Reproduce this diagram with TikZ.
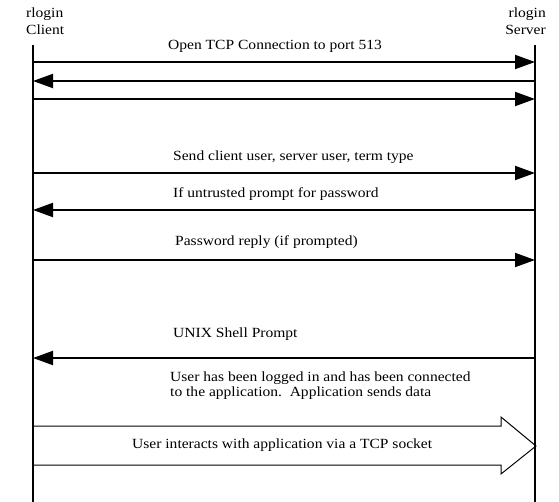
\documentclass[tikz,border=0pt]{standalone}
\usepackage{fontspec}
\setmainfont[FakeStretch=1.11]{Liberation Serif}
\usetikzlibrary{arrows.meta}
\begin{document}
\begin{tikzpicture}[x=1pt,y=-1pt,
  life/.style={line width=2pt},
  msg/.style={line width=2pt,-{Triangle[length=20pt,width=14pt]}},
  lbl/.style={anchor=west,inner sep=0pt,font=\fontsize{14}{15}\selectfont},
  hdr/.style={anchor=west,inner sep=0pt,font=\fontsize{14}{17}\selectfont,align=left},
  bigarrow/.style={line width=1pt}]
\useasboundingbox (0,0) rectangle (559,502);
% lifelines
\coordinate (c0) at (33,45); \coordinate (c1) at (33,502);
\coordinate (s0) at (535,45); \coordinate (s1) at (535,502);
\draw[life] (c0) -- (c1);
\draw[life] (s0) -- (s1);
% headers
\node[hdr] (hc) at (26,21) {rlogin\\Client};
\node[hdr,anchor=east,align=right] (hs) at (546,21) {rlogin\\Server};
% messages
\foreach \n/\y in {1/62,2/81,3/99,4/173,5/210,6/260,7/358}{
  \coordinate (a\n) at (33,\y); \coordinate (b\n) at (535,\y);}
\draw[msg] (a1) -- (b1);
\draw[msg] (b2) -- (a2);
\draw[msg] (a3) -- (b3);
\draw[msg] (a4) -- (b4);
\draw[msg] (b5) -- (a5);
\draw[msg] (a6) -- (b6);
\draw[msg] (b7) -- (a7);
\node[lbl] (l1) at (168,46) {Open TCP Connection to port 513};
\node[lbl] (l4) at (173,157) {Send client user, server user, term type};
\node[lbl] (l5) at (173,194) {If untrusted prompt for password};
\node[lbl] (l6) at (175,242) {Password reply (if prompted)};
\node[lbl] (l7) at (173,334) {UNIX Shell Prompt};
\node[lbl,align=left] (l8) at (170,386) {User has been logged in and has been connected\\to the application.\ \ Application sends data};
% big arrow
\coordinate (ba) at (33,426); \coordinate (bb) at (33,465);
\coordinate (tip) at (536,446);
\draw[bigarrow] (ba) -- (501,426) -- (501,417) -- (tip) -- (501,474) -- (501,465) -- (bb);
\node[lbl] (l9) at (132,445) {User interacts with application via a TCP socket};
\end{tikzpicture}
\end{document}
